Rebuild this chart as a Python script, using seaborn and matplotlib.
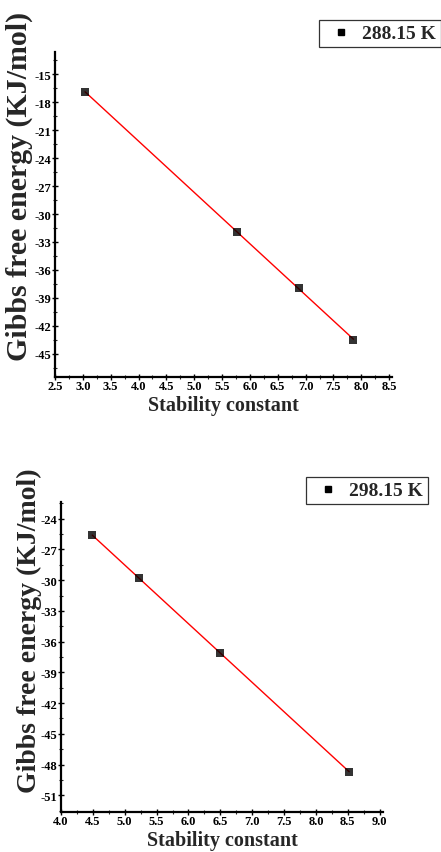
import numpy as np
import pandas as pd
import seaborn as sns
import matplotlib
matplotlib.use("Agg")
import matplotlib.pyplot as plt
from matplotlib.lines import Line2D
from matplotlib.ticker import MultipleLocator

# ---- data ----
k_288 = [3.04, 5.77, 6.88, 7.86]
g_288 = [-16.9, -31.9, -38.0, -43.5]
k_298 = [4.49, 5.22, 6.50, 8.52]
g_298 = [-25.6, -29.8, -37.1, -48.7]
labels = ["288.15 K", "298.15 K"]
x_label = "Stability constant"
y_label = "Gibbs free energy (KJ/mol)"

sns.set_theme(style="ticks")
plt.rcParams['font.family'] = ['Liberation Serif', 'DejaVu Serif']
plt.rcParams['font.weight'] = 'bold'

fig = plt.figure(figsize=(4.41, 8.53), dpi=100)

panels = [
    dict(x=k_288, y=g_288, label=labels[0],
         rect=[0.1247, 0.5569, 0.764, 0.381],
         xlim=(2.5, 8.55), ylim=(-47.5, -12.6),
         xticks=np.arange(2.5, 8.51, 0.5), yticks=np.arange(-45, -14, 3),
         ylab_pos=(-0.065, 0.588), ylab_size=21.5, leg=(0.7234, 0.9754)),
    dict(x=k_298, y=g_298, label=labels[1],
         rect=[0.1383, 0.0472, 0.730, 0.3628],
         xlim=(4.0, 9.05), ylim=(-52.6, -22.4),
         xticks=np.arange(4.0, 9.01, 0.5), yticks=np.arange(-51, -23, 3),
         ylab_pos=(-0.059, 0.587), ylab_size=20, leg=(0.6939, 0.4396)),
]

for p in panels:
    ax = fig.add_axes(p["rect"])
    df = pd.DataFrame({"k": p["x"], "g": p["y"]})
    sns.regplot(data=df, x="k", y="g", ax=ax, ci=None, marker="s",
                scatter_kws=dict(color="black", s=30, zorder=5, linewidths=0),
                line_kws=dict(color="red", lw=1.0, zorder=4))
    ax.set_xlim(*p["xlim"])
    ax.set_ylim(*p["ylim"])
    ax.set_xticks(p["xticks"])
    ax.set_yticks(p["yticks"])
    ax.set_xticklabels([f"{v:.1f}" for v in p["xticks"]])
    ax.set_yticklabels([f"{int(v)}" for v in p["yticks"]])
    ax.xaxis.set_minor_locator(MultipleLocator(0.25))
    ax.yaxis.set_minor_locator(MultipleLocator(1.5))
    for s in ["top", "right"]:
        ax.spines[s].set_visible(False)
    for s in ["left", "bottom"]:
        ax.spines[s].set_linewidth(1.6)
        ax.spines[s].set_color("black")
    ax.tick_params(which="major", direction="inout", length=4, width=1,
                   pad=0.5, labelsize=9, colors="black")
    ax.tick_params(which="minor", direction="inout", length=2.5, width=0.8)
    for t in ax.get_xticklabels() + ax.get_yticklabels():
        t.set_fontweight("bold")
    ax.set_xlabel(x_label, fontsize=14.5, fontweight="bold", labelpad=2)
    ax.set_ylabel(y_label, fontsize=p["ylab_size"], fontweight="bold")
    ax.yaxis.set_label_coords(*p["ylab_pos"])
    ax.set_facecolor("white")
    h = Line2D([], [], marker="s", color="black", linestyle="none", markersize=5)
    leg = fig.legend([h], [p["label"]], loc="upper left",
                     bbox_to_anchor=p["leg"], frameon=True, fancybox=False,
                     handlelength=1.8, handletextpad=0.15, borderpad=0.25,
                     borderaxespad=0.0,
                     prop=dict(family="Liberation Serif", weight="bold", size=14))
    leg.get_frame().set_edgecolor("black")
    leg.get_frame().set_linewidth(0.9)

fig.savefig("out.png", dpi=100, facecolor="white")
